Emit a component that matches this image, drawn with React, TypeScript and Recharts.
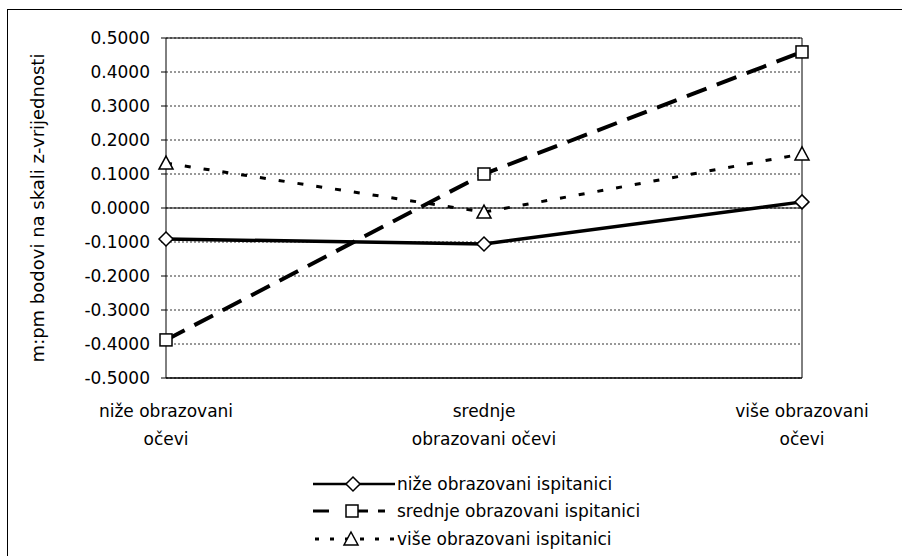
import { LineChart, Line, XAxis, YAxis, CartesianGrid, ReferenceLine, Legend } from "recharts";

// father's education level (x categories), "\n" marks the label line break
const fatherEducation = ["niže obrazovani\nočevi", "srednje\nobrazovani očevi", "više obrazovani\nočevi"];

// respondents' education level series (z-values)
const lowerEducated = [-0.091, -0.106, 0.018];
const middleEducated = [-0.388, 0.1, 0.459];
const higherEducated = [0.132, -0.012, 0.159];

const yTicks = [0.5, 0.4, 0.3, 0.2, 0.1, 0, -0.1, -0.2, -0.3, -0.4, -0.5];

const seriesNames = {
  lower: "niže obrazovani ispitanici",
  middle: "srednje obrazovani ispitanici",
  higher: "više obrazovani ispitanici",
};

const chartData = fatherEducation.map((category, i) => ({
  category,
  lower: lowerEducated[i],
  middle: middleEducated[i],
  higher: higherEducated[i],
}));

const FONT = "'DejaVu Sans', sans-serif";
const INK = "#000";

const Diamond = ({ cx, cy }: any) => {
  if (cx == null || cy == null) return null;
  const r = 7;
  return (
    <path
      d={`M${cx},${cy - r}L${cx + r},${cy}L${cx},${cy + r}L${cx - r},${cy}Z`}
      fill="#fff"
      stroke={INK}
      strokeWidth={1.5}
    />
  );
};

const Square = ({ cx, cy }: any) => {
  if (cx == null || cy == null) return null;
  const r = 6;
  return <rect x={cx - r} y={cy - r} width={r * 2} height={r * 2} fill="#fff" stroke={INK} strokeWidth={1.5} />;
};

const Triangle = ({ cx, cy }: any) => {
  if (cx == null || cy == null) return null;
  return (
    <path
      d={`M${cx},${cy - 7}L${cx + 7},${cy + 6}L${cx - 7},${cy + 6}Z`}
      fill="#fff"
      stroke={INK}
      strokeWidth={1.5}
    />
  );
};

const CategoryTick = ({ x, y, payload }: any) => {
  const lines = String(payload.value).split("\n");
  return (
    <text x={x} y={y} textAnchor="middle" fontFamily={FONT} fontSize={17} fill={INK}>
      {lines.map((line, i) => (
        <tspan key={i} x={x} dy={i === 0 ? 37 : 28}>
          {line}
        </tspan>
      ))}
    </text>
  );
};

const YTitle = ({ viewBox }: any) => {
  const cx = viewBox.x + 37;
  const cy = viewBox.y + viewBox.height / 2;
  return (
    <text
      x={cx}
      y={cy}
      transform={`rotate(-90, ${cx}, ${cy})`}
      textAnchor="middle"
      dominantBaseline="central"
      fontFamily={FONT}
      fontSize={18}
      fill={INK}
    >
      m:pm bodovi na skali z-vrijednosti
    </text>
  );
};

const LegendSample = ({ kind }: { kind: string }) => {
  if (kind === "lower") {
    return (
      <svg width={84} height={20}>
        <line x1={0} y1={10} x2={82} y2={10} stroke={INK} strokeWidth={2.5} />
        <Diamond cx={40} cy={10} />
      </svg>
    );
  }
  if (kind === "middle") {
    return (
      <svg width={84} height={20}>
        <line x1={0} y1={10} x2={16} y2={10} stroke={INK} strokeWidth={3} />
        <line x1={45} y1={10} x2={55} y2={10} stroke={INK} strokeWidth={3} />
        <line x1={65} y1={10} x2={72} y2={10} stroke={INK} strokeWidth={3} />
        <Square cx={39} cy={10} />
      </svg>
    );
  }
  return (
    <svg width={84} height={20}>
      <line x1={0} y1={10} x2={82} y2={10} stroke={INK} strokeWidth={3} strokeDasharray="4 11" strokeDashoffset={-2} />
      <Triangle cx={38} cy={10} />
    </svg>
  );
};

const LegendContent = ({ payload }: any) => (
  <div style={{ fontFamily: FONT, fontSize: 17, color: INK }}>
    {(payload || []).map((item: any) => (
      <div key={item.dataKey} style={{ display: "flex", alignItems: "center", height: 27.5 }}>
        <LegendSample kind={item.dataKey} />
        <span>{item.value}</span>
      </div>
    ))}
  </div>
);

export default function App() {
  return (
    <div style={{ position: "absolute", left: 0, top: 0, width: 902, height: 556, background: "#fff", overflow: "hidden" }}>
      <div
        style={{
          position: "absolute",
          left: 7,
          top: 9,
          width: 1000,
          height: 1000,
          borderLeft: "1.5px solid #000",
          borderTop: "1.5px solid #000",
        }}
      />
      <LineChart
        width={902}
        height={556}
        data={chartData}
        margin={{ top: 38, right: 100, bottom: 118, left: 0 }}
        style={{ position: "absolute", left: 0, top: 0 }}
      >
        <CartesianGrid vertical={false} stroke="#333" strokeWidth={1} strokeDasharray="2 2" />
        <XAxis
          dataKey="category"
          scale="point"
          padding={{ left: 0, right: 0 }}
          height={60}
          tickLine={false}
          tickSize={0}
          axisLine={{ stroke: INK, strokeWidth: 1.5 }}
          tick={<CategoryTick />}
          interval={0}
        />
        <YAxis
          width={166}
          domain={[-0.5, 0.5]}
          ticks={yTicks}
          tickFormatter={(v: number) => v.toFixed(4)}
          tickSize={5}
          tickMargin={11}
          tickLine={{ stroke: INK }}
          axisLine={{ stroke: INK, strokeWidth: 1 }}
          tick={{ fontFamily: FONT, fontSize: 17, fill: INK }}
          label={<YTitle />}
          allowDataOverflow
        />
        <ReferenceLine y={0} stroke={INK} strokeWidth={1} />
        <ReferenceLine y={0.5} stroke={INK} strokeWidth={1} />
        <ReferenceLine x={fatherEducation[fatherEducation.length - 1]} stroke={INK} strokeWidth={1} />
        <Legend
          layout="vertical"
          align="center"
          verticalAlign="middle"
          wrapperStyle={{ left: 313, top: 470, width: 420 }}
          content={<LegendContent />}
        />
        <Line
          dataKey="lower"
          name={seriesNames.lower}
          stroke={INK}
          strokeWidth={3.5}
          dot={<Diamond />}
          activeDot={false}
          isAnimationActive={false}
        />
        <Line
          dataKey="middle"
          name={seriesNames.middle}
          stroke={INK}
          strokeWidth={4}
          strokeDasharray="21 11"
          dot={<Square />}
          activeDot={false}
          isAnimationActive={false}
        />
        <Line
          dataKey="higher"
          name={seriesNames.higher}
          stroke={INK}
          strokeWidth={3}
          strokeDasharray="6 13"
          dot={<Triangle />}
          activeDot={false}
          isAnimationActive={false}
        />
      </LineChart>
    </div>
  );
}
